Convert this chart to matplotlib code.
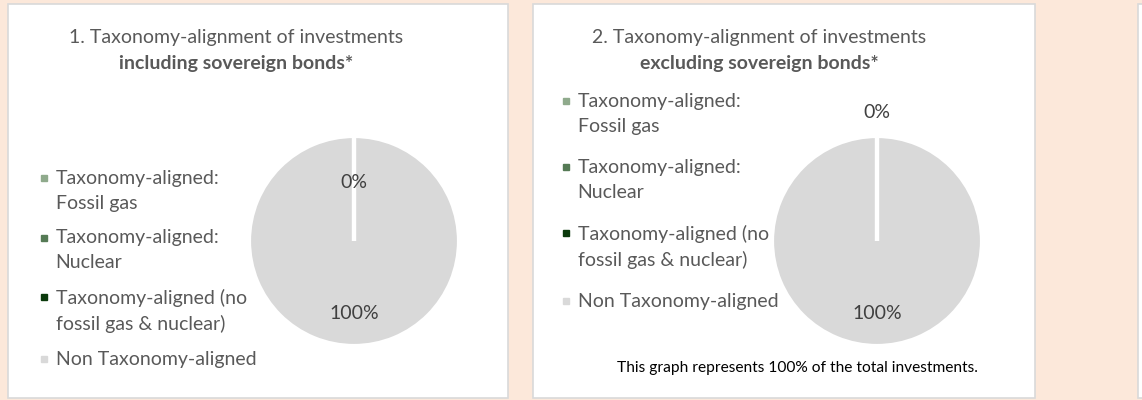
import math
import matplotlib.pyplot as plt
from matplotlib.patches import Rectangle
from matplotlib.lines import Line2D

# ----------------------------
# data
# ----------------------------
categories = [
    "Taxonomy-aligned:\nFossil gas",
    "Taxonomy-aligned:\nNuclear",
    "Taxonomy-aligned (no\nfossil gas & nuclear)",
    "Non Taxonomy-aligned",
]
incl_values = [0, 0, 0, 100]
excl_values = [0, 0, 0, 100]
colors = ["#8FAA8C", "#557A55", "#0B3A0C", "#D9D9D9"]

titles = [
    ("1. Taxonomy-alignment of investments", "including sovereign bonds*"),
    ("2. Taxonomy-alignment of investments", "excluding sovereign bonds*"),
]
footnote = "This graph represents 100% of the total investments."

W, H = 1142, 400
TXT = "#595959"
FS = 14

plt.rcParams["font.family"] = ["Lato", "DejaVu Sans"]

fig = plt.figure(figsize=(W / 100, H / 100), dpi=100)
fig.patch.set_facecolor("#FCE8DA")


def px_rect(x0, y0, x1, y1, **kw):
    r = Rectangle((x0 / W, 1 - y1 / H), (x1 - x0) / W, (y1 - y0) / H,
                  transform=fig.transFigure, **kw)
    fig.add_artist(r)
    return r


# panels
px_rect(8, 4, 508, 398, fc="white", ec="#D9D9D9", lw=1.2, zorder=0)
px_rect(533, 4, 1035, 398, fc="white", ec="#D9D9D9", lw=1.2, zorder=0)
px_rect(1138, 4, 1160, 398, fc="white", ec="#D9D9D9", lw=1.2, zorder=0)


def draw_panel(values, title, cx, cy, title_x, leg_xy, lab_dist, label_space):
    # titles
    fig.text(title_x / W, 1 - 38 / H, title[0], ha="center", va="center",
             fontsize=FS, color=TXT)
    fig.text(title_x / W, 1 - 63 / H, title[1], ha="center", va="center",
             fontsize=FS, color=TXT, fontweight="bold")

    r = 105
    ax = fig.add_axes([(cx - r) / W, 1 - (cy + r) / H, 2 * r / W, 2 * r / H])
    wedges, _ = ax.pie(values, colors=colors, startangle=90, counterclock=False,
                       radius=1.0,
                       wedgeprops=dict(edgecolor="white", linewidth=3))
    ax.set_xlim(-1, 1)
    ax.set_ylim(-1, 1)
    ax.set_aspect("equal")
    ax.axis("off")

    # zero-size slices drawn on top so their white borders show
    for w, v in zip(wedges, values):
        if v == 0:
            w.set_zorder(3)

    seen = set()
    for w, v in zip(wedges, values):
        ang = (w.theta1 + w.theta2) / 2.0
        key = round(ang % 360, 3)
        if key in seen:
            continue
        seen.add(key)
        d = lab_dist[0] if v == 0 else lab_dist[1]
        x = d * math.cos(math.radians(ang))
        y = d * math.sin(math.radians(ang))
        ax.text(x, y, f"{v:.0f}%", ha="center", va="center",
                fontsize=FS, color="#404040", zorder=5)

    handles = [Line2D([], [], ls="none", marker="s", markersize=4.2,
                      markerfacecolor=c, markeredgecolor=c) for c in colors]
    leg = fig.legend(handles, categories, loc="upper left",
                     bbox_to_anchor=(leg_xy[0] / W, 1 - leg_xy[1] / H),
                     frameon=False, fontsize=FS, labelcolor=TXT,
                     handlelength=0.45, handleheight=1.15, handletextpad=0.35,
                     labelspacing=label_space, borderpad=0, borderaxespad=0)
    for t in leg.get_texts():
        t.set_linespacing(1.55)
    # align markers with the first line of each label
    for col in leg._legend_handle_box.get_children():
        for item in col.get_children():
            item.align = "top"
    return ax


draw_panel(incl_values, titles[0], 354, 241, 236, (40, 170), (0.56, 0.69), 0.91)
draw_panel(excl_values, titles[1], 877, 241, 759, (562, 93), (1.22, 0.69), 1.24)

fig.text(797 / W, 1 - 368 / H, footnote, ha="center", va="center",
         fontsize=11.2, color="black")

fig.savefig("out.png", dpi=100, facecolor=fig.get_facecolor())
